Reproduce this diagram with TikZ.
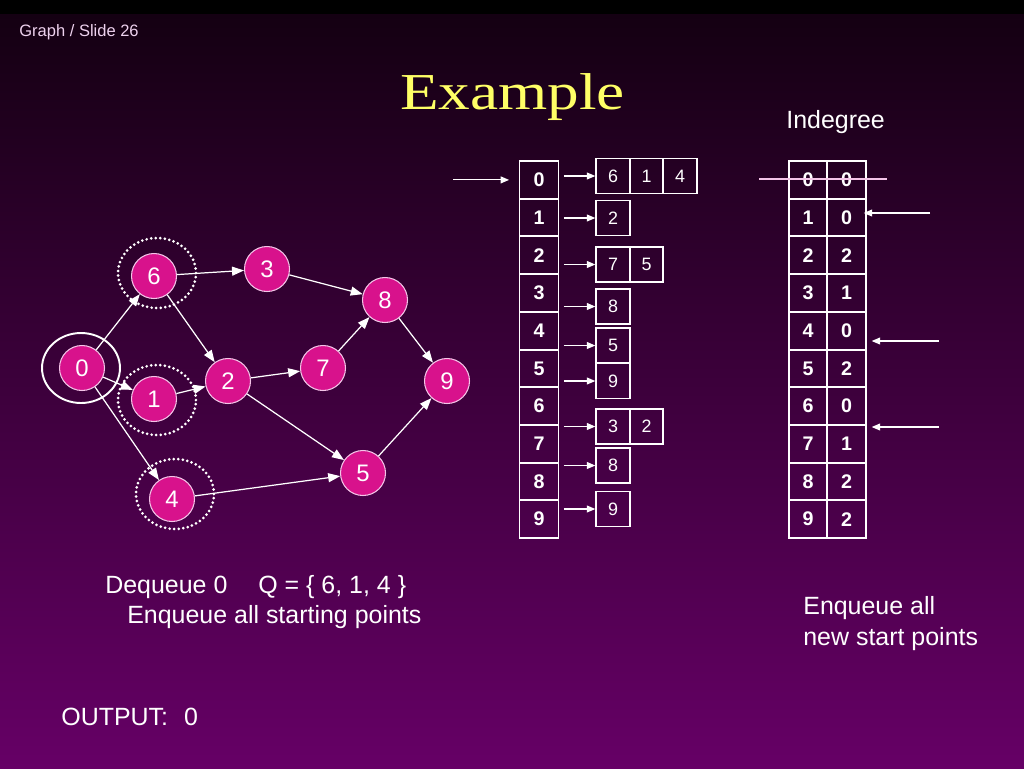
\documentclass[tikz,border=0pt]{standalone}
\usepackage{fontspec}
\setmainfont{Liberation Sans}
\newfontfamily\titlefont[FakeStretch=1.22]{Liberation Serif}
\usetikzlibrary{arrows.meta, shapes.geometric}

\definecolor{bgtop}{RGB}{20,0,18}
\definecolor{bgbottom}{RGB}{102,0,102}
\definecolor{vertexfill}{RGB}{216,18,140}
\definecolor{vertexline}{RGB}{244,196,232}
\definecolor{titleyellow}{RGB}{255,255,102}
\definecolor{slidegray}{RGB}{238,210,238}

\tikzset{
    vertex/.style = {circle, fill = vertexfill, draw = vertexline, line width = 0.6pt,
        minimum size = 0.9cm, inner sep = 0pt, text = white, font = \fontsize{13.6}{16}\selectfont},
    halo/.style = {ellipse, draw = white, line width = 1.1pt, minimum width = 1.56cm,
        minimum height = 1.4cm, inner sep = 0pt},
    dothalo/.style = {halo, line width = 1.7pt, line cap = round, dash pattern = on 0pt off 2.6pt},
    edge/.style = {draw = white, line width = 0.7pt, -{Triangle[length = 2.4mm, width = 1.8mm]}},
    pointer/.style = {draw = white, line width = 0.6pt, -{Triangle[length = 1.7mm, width = 1.4mm]}},
    strike/.style = {draw = vertexline, line width = 0.6pt},
    slot/.style = {draw = white, line width = 1.1pt, minimum width = 0.78cm, minimum height = 0.754cm,
        inner sep = 0pt, text = white, font = \fontsize{11.2}{13}\selectfont\bfseries},
    degslot/.style = {slot, minimum width = 0.77cm},
    cell/.style = {draw = white, line width = 1.1pt, minimum width = 0.67cm, minimum height = 0.70cm,
        inner sep = 0pt, text = white, font = \fontsize{10.2}{12}\selectfont},
    caption/.style = {anchor = base west, inner sep = 0pt, text = white,
        font = \fontsize{14.2}{17.6}\selectfont}
}

\begin{document}
\begin{tikzpicture}[x = 0.02cm, y = -0.02cm]
    % Background of the slide
    \useasboundingbox (+0, +0) rectangle (+1024, +768);
    \shade[top color = bgtop, bottom color = bgbottom] (+0, +14) rectangle (+1024, +768);
    \fill[black] (+0, +0) rectangle (+1024, +14);

    % === Header ===
    \node[caption, text = slidegray, font = \fontsize{9.4}{11}\selectfont] (slideno) at (+19, +36) {Graph / Slide 26};
    \node[anchor = base, inner sep = 0pt, text = titleyellow,
        font = \titlefont\fontsize{29.5}{34}\selectfont] (title) at (+512.5, +109) {Example};
    \node[caption] (indeg) at (+786, +128) {Indegree};

    % === Graph ===
    \node[vertex] (v0) at (+82, +368) {0};
    \node[vertex] (v6) at (+154, +276) {6};
    \node[vertex] (v1) at (+154, +399) {1};
    \node[vertex] (v4) at (+172, +499) {4};
    \node[vertex] (v3) at (+267, +269) {3};
    \node[vertex] (v2) at (+228, +381) {2};
    \node[vertex] (v7) at (+323, +368) {7};
    \node[vertex] (v8) at (+385, +300) {8};
    \node[vertex] (v5) at (+363, +473) {5};
    \node[vertex] (v9) at (+447, +381) {9};

    % Edges
    \draw[edge] (v0) -- (v6);
    \draw[edge] (v0) -- (v1);
    \draw[edge] (v0) -- (v4);
    \draw[edge] (v6) -- (v3);
    \draw[edge] (v6) -- (v2);
    \draw[edge] (v1) -- (v2);
    \draw[edge] (v2) -- (v7);
    \draw[edge] (v2) -- (v5);
    \draw[edge] (v3) -- (v8);
    \draw[edge] (v7) -- (v8);
    \draw[edge] (v8) -- (v9);
    \draw[edge] (v5) -- (v9);
    \draw[edge] (v4) -- (v5);

    % Dequeued vertex and the queue
    \node[halo] (h0) at (+81, +368) {};
    \node[dothalo] (h6) at (+157, +273) {};
    \node[dothalo] (h1) at (+157, +400) {};
    \node[dothalo] (h4) at (+175, +494) {};

    % === Adjacency list ===
    \node[slot] (l0) at (+539, +179.9) {0};
    \node[slot] (l1) at (+539, +217.6) {1};
    \node[slot] (l2) at (+539, +255.3) {2};
    \node[slot] (l3) at (+539, +293.0) {3};
    \node[slot] (l4) at (+539, +330.7) {4};
    \node[slot] (l5) at (+539, +368.4) {5};
    \node[slot] (l6) at (+539, +406.1) {6};
    \node[slot] (l7) at (+539, +443.8) {7};
    \node[slot] (l8) at (+539, +481.5) {8};
    \node[slot] (l9) at (+539, +519.2) {9};

    % Neighbour boxes
    \node[cell] (a0a) at (+613, +176) {6};
    \node[cell] (a0b) at (+646.5, +176) {1};
    \node[cell] (a0c) at (+680, +176) {4};
    \node[cell] (a1a) at (+613, +218) {2};
    \node[cell] (a2a) at (+613, +264.5) {7};
    \node[cell] (a2b) at (+646.5, +264.5) {5};
    \node[cell] (a3a) at (+613, +306.5) {8};
    \node[cell] (a4a) at (+613, +345.5) {5};
    \node[cell] (a5a) at (+613, +381) {9};
    \node[cell] (a6a) at (+613, +426.5) {3};
    \node[cell] (a6b) at (+646.5, +426.5) {2};
    \node[cell] (a7a) at (+613, +465.5) {8};
    \node[cell] (a8a) at (+613, +509) {9};

    % Pointers into the boxes
    \coordinate (qin) at (+453, +179.9);
    \draw[pointer, shorten >= 0.19cm] (qin) -- (l0.west);
    \draw[pointer, shorten <= 0.09cm] (l0.east |- a0a.west) -- (a0a.west);
    \draw[pointer, shorten <= 0.09cm] (l1.east |- a1a.west) -- (a1a.west);
    \draw[pointer, shorten <= 0.09cm] (l2.east |- a2a.west) -- (a2a.west);
    \draw[pointer, shorten <= 0.09cm] (l3.east |- a3a.west) -- (a3a.west);
    \draw[pointer, shorten <= 0.09cm] (l4.east |- a4a.west) -- (a4a.west);
    \draw[pointer, shorten <= 0.09cm] (l5.east |- a5a.west) -- (a5a.west);
    \draw[pointer, shorten <= 0.09cm] (l6.east |- a6a.west) -- (a6a.west);
    \draw[pointer, shorten <= 0.09cm] (l7.east |- a7a.west) -- (a7a.west);
    \draw[pointer, shorten <= 0.09cm] (l8.east |- a8a.west) -- (a8a.west);

    % === Indegree table ===
    \node[degslot] (k0) at (+808, +179.9) {0};  \node[degslot] (g0) at (+846.5, +179.9) {0};
    \node[degslot] (k1) at (+808, +217.6) {1};  \node[degslot] (g1) at (+846.5, +217.6) {0};
    \node[degslot] (k2) at (+808, +255.3) {2};  \node[degslot] (g2) at (+846.5, +255.3) {2};
    \node[degslot] (k3) at (+808, +293.0) {3};  \node[degslot] (g3) at (+846.5, +293.0) {1};
    \node[degslot] (k4) at (+808, +330.7) {4};  \node[degslot] (g4) at (+846.5, +330.7) {0};
    \node[degslot] (k5) at (+808, +368.4) {5};  \node[degslot] (g5) at (+846.5, +368.4) {2};
    \node[degslot] (k6) at (+808, +406.1) {6};  \node[degslot] (g6) at (+846.5, +406.1) {0};
    \node[degslot] (k7) at (+808, +443.8) {7};  \node[degslot] (g7) at (+846.5, +443.8) {1};
    \node[degslot] (k8) at (+808, +481.5) {8};  \node[degslot] (g8) at (+846.5, +481.5) {2};
    \node[degslot] (k9) at (+808, +519.2) {9};  \node[degslot] (g9) at (+846.5, +519.2) {2};

    % Row 0 crossed out
    \coordinate (strikeL) at (+759, +179);
    \coordinate (strikeR) at (+887, +179);
    \draw[strike] (strikeL) -- (strikeR);

    % New start points
    \coordinate (newA) at (+930, +213);
    \coordinate (newB) at (+939, +341);
    \coordinate (newC) at (+939, +427);
    \draw[pointer, shorten >= -0.06cm] (newA) -- (newA -| g1.east);
    \draw[pointer, shorten >= 0.1cm] (newB) -- (newB -| g4.east);
    \draw[pointer, shorten >= 0.1cm] (newC) -- (newC -| g6.east);

    % === Captions ===
    \node[caption] (deq) at (+105, +593) {Dequeue 0\hspace{0.62cm}Q = \{ 6, 1, 4 \}};
    \node[caption] (enq) at (+127, +623) {Enqueue all starting points};
    \node[caption] (output) at (+61, +725) {OUTPUT:\hspace{0.32cm}0};
    \node[caption] (newst) at (+803, +614) {Enqueue all};
    \node[caption] (newst2) at (+803, +645) {new start points};
\end{tikzpicture}
\end{document}
